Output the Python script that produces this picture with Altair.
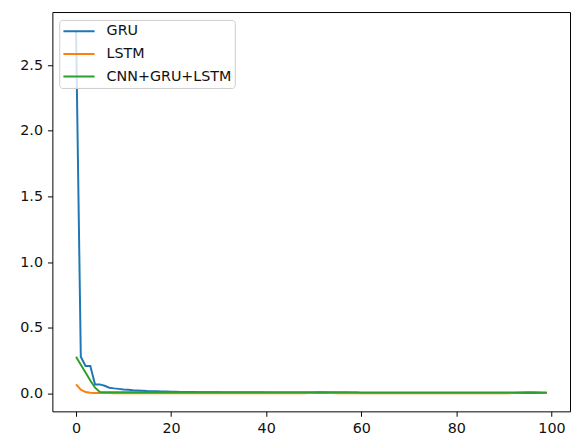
import altair as alt
import pandas as pd

series_names = ["GRU", "LSTM", "CNN+GRU+LSTM"]
series_colors = ["#1f77b4", "#ff7f0e", "#2ca02c"]

gru = [2.765, 0.28, 0.21, 0.21, 0.07, 0.07, 0.06, 0.045, 0.040, 0.036,
       0.032, 0.029, 0.026, 0.024, 0.022, 0.020, 0.019, 0.018, 0.017, 0.016,
       0.015, 0.014, 0.013, 0.013, 0.012, 0.012, 0.011, 0.011, 0.010, 0.010,
       0.010, 0.009, 0.009, 0.009, 0.009, 0.008, 0.008, 0.008, 0.008, 0.008,
       0.007, 0.007, 0.007, 0.007, 0.007, 0.007, 0.007, 0.006, 0.006, 0.006,
       0.006, 0.006, 0.006, 0.006, 0.006, 0.006, 0.006, 0.006, 0.005, 0.005,
       0.005, 0.005, 0.005, 0.005, 0.005, 0.005, 0.005, 0.005, 0.005, 0.005,
       0.005, 0.005, 0.005, 0.005, 0.005, 0.005, 0.005, 0.005, 0.005, 0.005,
       0.005, 0.004, 0.004, 0.004, 0.004, 0.004, 0.004, 0.004, 0.004, 0.004,
       0.004, 0.004, 0.004, 0.004, 0.004, 0.004, 0.004, 0.004, 0.004, 0.004]

lstm = [0.070, 0.030, 0.012, 0.007, 0.005, 0.004, 0.004, 0.004, 0.003, 0.003,
        0.003, 0.003, 0.003, 0.003, 0.003, 0.003, 0.003, 0.003, 0.003, 0.003,
        0.003, 0.003, 0.003, 0.003, 0.003, 0.003, 0.003, 0.003, 0.003, 0.003,
        0.003, 0.003, 0.003, 0.003, 0.003, 0.003, 0.003, 0.003, 0.003, 0.003,
        0.003, 0.003, 0.003, 0.003, 0.003, 0.003, 0.003, 0.003, 0.003, 0.004,
        0.006, 0.010, 0.011, 0.006, 0.004, 0.003, 0.003, 0.003, 0.003, 0.003,
        0.003, 0.003, 0.003, 0.003, 0.003, 0.003, 0.003, 0.003, 0.003, 0.003,
        0.003, 0.003, 0.003, 0.003, 0.003, 0.003, 0.003, 0.003, 0.003, 0.003,
        0.003, 0.003, 0.003, 0.003, 0.003, 0.003, 0.003, 0.003, 0.003, 0.003,
        0.003, 0.003, 0.004, 0.006, 0.008, 0.010, 0.010, 0.008, 0.006, 0.005]

cnn = [0.280, 0.220, 0.160, 0.100, 0.045, 0.012, 0.011, 0.011, 0.011, 0.011,
       0.011, 0.011, 0.011, 0.011, 0.011, 0.011, 0.011, 0.011, 0.011, 0.011,
       0.011, 0.010, 0.010, 0.010, 0.010, 0.010, 0.010, 0.010, 0.010, 0.010,
       0.010, 0.010, 0.010, 0.010, 0.010, 0.010, 0.010, 0.010, 0.010, 0.010,
       0.010, 0.010, 0.010, 0.010, 0.010, 0.010, 0.010, 0.010, 0.010, 0.010,
       0.010, 0.010, 0.010, 0.010, 0.010, 0.010, 0.010, 0.010, 0.010, 0.010,
       0.009, 0.009, 0.009, 0.009, 0.009, 0.009, 0.009, 0.009, 0.009, 0.009,
       0.009, 0.009, 0.009, 0.009, 0.009, 0.009, 0.009, 0.009, 0.009, 0.009,
       0.009, 0.009, 0.009, 0.009, 0.009, 0.009, 0.009, 0.009, 0.009, 0.009,
       0.008, 0.008, 0.008, 0.008, 0.008, 0.008, 0.008, 0.008, 0.008, 0.008]

x_ticks = [0, 20, 40, 60, 80, 100]
y_ticks = [0.0, 0.5, 1.0, 1.5, 2.0, 2.5]

rows = []
for name, vals in zip(series_names, [gru, lstm, cnn]):
    for i, v in enumerate(vals):
        rows.append({"epoch": i, "loss": v, "model": name})
df = pd.DataFrame(rows)

FONT = "DejaVu Sans"

chart = alt.Chart(df).mark_line(strokeWidth=2).encode(
    x=alt.X("epoch:Q",
            scale=alt.Scale(domain=[-4.98, 103.9], nice=False, zero=False),
            axis=alt.Axis(values=x_ticks, title=None, format="d")),
    y=alt.Y("loss:Q",
            scale=alt.Scale(domain=[-0.135, 2.904], nice=False, zero=False),
            axis=alt.Axis(values=y_ticks, title=None, format=".1f")),
    color=alt.Color("model:N",
                    scale=alt.Scale(domain=series_names, range=series_colors),
                    sort=series_names,
                    legend=alt.Legend(title=None, orient="none",
                                      legendX=7, legendY=8,
                                      symbolType="stroke",
                                      symbolSize=1000, symbolStrokeWidth=2,
                                      clipHeight=17, labelOffset=11,
                                      rowPadding=6, padding=3)),
    order=alt.Order("epoch:Q"),
).properties(
    width=525, height=405,
    background="white",
    autosize=alt.AutoSizeParams(type="none"),
    padding={"left": 45, "top": 1, "right": 1, "bottom": 28},
).configure_view(
    stroke="black", strokeWidth=1, fill="white"
).configure_axis(
    grid=False, domain=False, ticks=True, tickColor="black", tickSize=5,
    tickWidth=1, labelFont=FONT, labelFontSize=14.5, labelColor="#111",
    labelPadding=5,
).configure_legend(
    labelFont=FONT, labelFontSize=14.5, labelColor="#111",
    strokeColor="#cccccc", fillColor="rgba(255,255,255,0.8)",
    cornerRadius=3,
)

chart.save("out.html", embed_options={"renderer": "svg", "actions": False})
